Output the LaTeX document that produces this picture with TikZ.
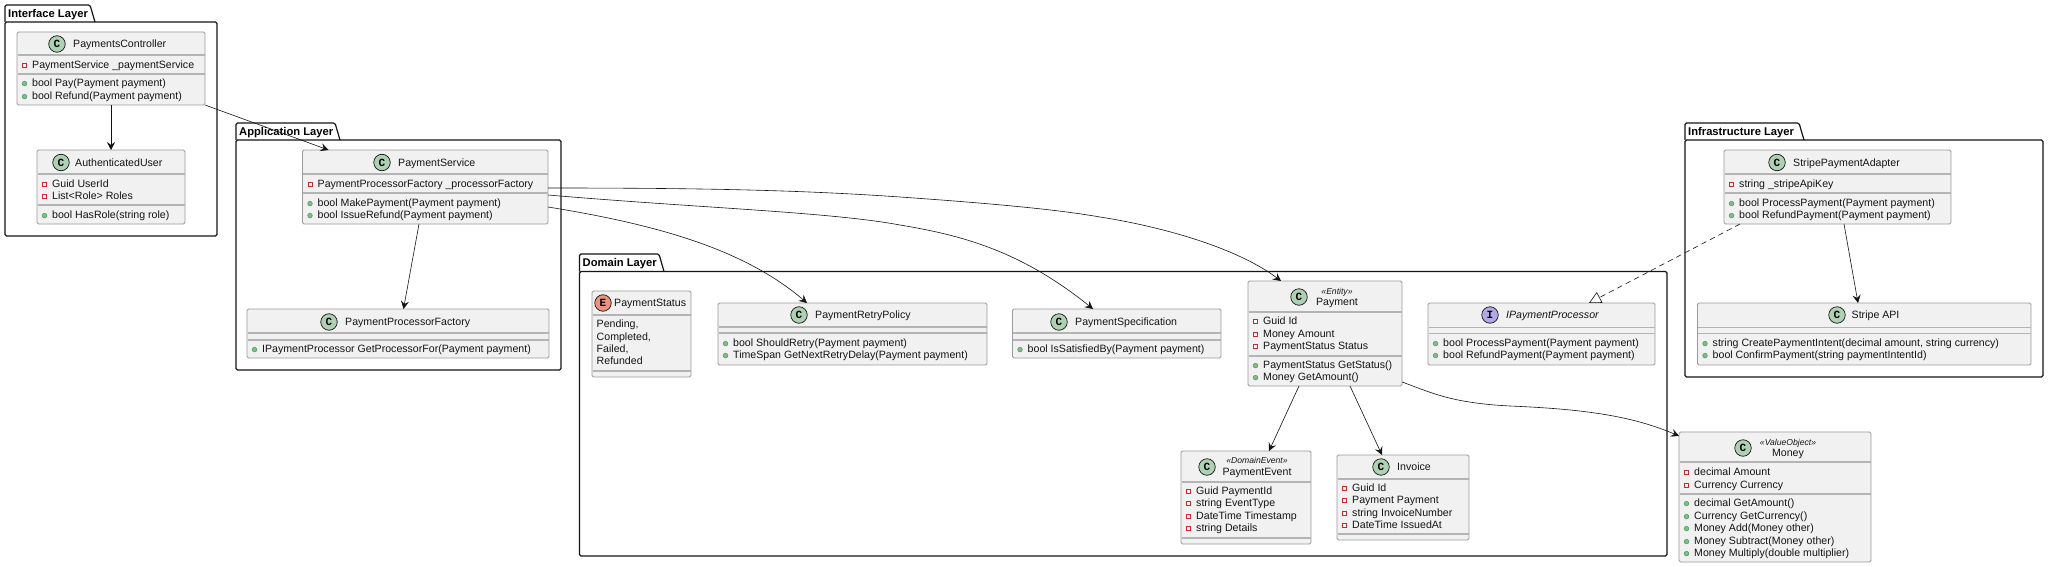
\documentclass[tikz,border=0pt]{standalone}
\usepackage{fontspec}
\setmainfont{Liberation Sans}
\newfontfamily\spotfont{Liberation Mono}
\usetikzlibrary{arrows.meta,calc}
\definecolor{boxfill}{HTML}{F1F1F1}
\definecolor{boxline}{HTML}{9A9A9A}
\definecolor{sepline}{HTML}{B4B4B4}
\definecolor{ink}{HTML}{141414}
\definecolor{spotC}{HTML}{ADD1B2}
\definecolor{spotE}{HTML}{EB937F}
\definecolor{spotI}{HTML}{B4A7E5}
\definecolor{fieldred}{HTML}{C82930}
\definecolor{methodgreen}{HTML}{84BE84}
\definecolor{methodline}{HTML}{4E9E68}
\newcommand{\txtfont}{\fontsize{10.6}{12}\selectfont}
\newcount\rowid
\newcommand{\nextid}{\global\advance\rowid by 1 }
% name x1 y1 x2 y2 sep1 sep2
\newcommand{\umlbox}[7]{%
  \node[classbox,minimum width={(#4-#2)*1pt},minimum height={(#5-#3)*1pt}] (#1) at ({(#2+#4)/2},{(#3+#5)/2}) {};
  \draw[seprule] (#2+0.5,#6) -- (#4-0.5,#6);
  \draw[seprule] (#2+0.5,#7) -- (#4-0.5,#7);
  \xdef\boxleft{#2}%
}
% spot: cx cy colour letter
\newcommand{\spot}[4]{\nextid
  \node[spotmark,fill=#3] (s\the\rowid) at (#1,#2) {\spotfont\bfseries\fontsize{11}{11}\selectfont #4};}
% left-aligned title: x y text
\newcommand{\ttl}[3]{\nextid
  \node[rowtext] (t\the\rowid) at (#1,#2+3.7) {#3};}
% centred line: x y text
\newcommand{\ctr}[3]{\nextid
  \node[rowtext,anchor=base] (t\the\rowid) at (#1,#2+3.7) {#3};}
\newcommand{\fld}[2]{\nextid
  \node[fieldmark] (m\the\rowid) at (\boxleft+7.5,#1+0.6) {};
  \node[rowtext] (t\the\rowid) at (\boxleft+15,#1+3.7) {#2};}
\newcommand{\mth}[2]{\nextid
  \node[methodmark] (m\the\rowid) at (\boxleft+7.5,#1+0.6) {};
  \node[rowtext] (t\the\rowid) at (\boxleft+15,#1+3.7) {#2};}
% package: name left tabtop tabright bodytop right bottom label
\newcommand{\pkg}[8]{%
  \draw[pkgline,rounded corners=1.5pt] (#2,#5) -- (#2,#3) -- (#4-5,#3) -- (#4,#5);
  \draw[pkgline,rounded corners=1.5pt] (#2,#5) -- (#6,#5) -- (#6,#7) -- (#2,#7) -- cycle;
  \node[pkglabel] (#1) at (#2+3,{(#3+#5)/2+3.9}) {#8};}
\tikzset{
  classbox/.style={draw=boxline,fill=boxfill,line width=0.8pt,rounded corners=1.5pt,inner sep=0pt,outer sep=0pt},
  seprule/.style={draw=sepline,line width=1.1pt},
  spotmark/.style={circle,draw=ink,line width=0.7pt,minimum size=16.5pt,inner sep=0pt},
  rowtext/.style={anchor=base west,inner sep=0pt,text=ink,font=\txtfont},
  fieldmark/.style={rectangle,draw=fieldred,fill=white,line width=0.7pt,minimum size=4.2pt,inner sep=0pt},
  methodmark/.style={circle,draw=methodline,fill=methodgreen,line width=0.6pt,minimum size=4.6pt,inner sep=0pt},
  pkgline/.style={draw=ink,line width=1.2pt},
  pkglabel/.style={anchor=base west,inner sep=0pt,text=black,font=\fontsize{11.2}{12}\selectfont\bfseries},
  dep/.style={draw=ink,line width=0.6pt,-{Stealth[length=8pt,width=8pt,inset=3pt]}},
  realize/.style={draw=ink,line width=0.6pt,dash pattern=on 5.5pt off 4pt,-{Triangle[open,length=12pt,width=12pt,fill=white]}},
}
\begin{document}
\begin{tikzpicture}[x=1pt,y=-1pt]
\useasboundingbox (0,0) rectangle (2048,567);
\fill[white] (0,0) rectangle (2048,567);

\pkg{pkgI}{5}{5}{95}{22}{217}{236}{Interface Layer}
\pkg{pkgA}{236}{123}{340}{140}{561}{370}{Application Layer}
\pkg{pkgD}{579.5}{254}{664}{271.5}{1667}{556}{Domain Layer}
\pkg{pkgF}{1685}{123}{1804}{140}{2043}{377}{Infrastructure Layer}

% Interface
\umlbox{pc}{17}{32}{205}{105}{55}{74}
\spot{57}{44}{spotC}{C}\ttl{73}{44}{PaymentsController}
\fld{65}{PaymentService \_paymentService}
\mth{83}{bool Pay(Payment payment)}
\mth{96}{bool Refund(Payment payment)}

\umlbox{au}{37}{150}{185}{224}{174}{205}
\spot{61}{162.5}{spotC}{C}\ttl{75}{163}{AuthenticatedUser}
\fld{184}{Guid UserId}
\fld{196}{List<Role> Roles}
\mth{215}{bool HasRole(string role)}

% Application
\umlbox{ps}{302.5}{150}{548}{224}{174}{193}
\spot{382}{162.5}{spotC}{C}\ttl{398}{163}{PaymentService}
\fld{184}{PaymentProcessorFactory \_processorFactory}
\mth{203}{bool MakePayment(Payment payment)}
\mth{215}{bool IssueRefund(Payment payment)}

\umlbox{pf}{247}{309}{549}{358}{333}{340}
\spot{329}{322}{spotC}{C}\ttl{345}{322}{PaymentProcessorFactory}
\mth{349}{IPaymentProcessor GetProcessorFor(Payment payment)}

% Domain
\umlbox{st}{592}{291}{691}{377}{315}{371}
\spot{603}{303}{spotE}{E}\ttl{614}{303}{PaymentStatus}
\ttl{596.5}{324}{Pending,}
\ttl{596.5}{337}{Completed,}
\ttl{596.5}{349}{Failed,}
\ttl{596.5}{361}{Refunded}

\umlbox{rp}{718}{303}{987}{365}{327}{333}
\spot{799}{315}{spotC}{C}\ttl{815}{315}{PaymentRetryPolicy}
\mth{343}{bool ShouldRetry(Payment payment)}
\mth{355}{TimeSpan GetNextRetryDelay(Payment payment)}

\umlbox{sp}{1012.5}{309}{1221}{358}{333}{340}
\spot{1059}{322}{spotC}{C}\ttl{1075}{322}{PaymentSpecification}
\mth{349}{bool IsSatisfiedBy(Payment payment)}

\umlbox{pa}{1248}{281}{1402}{386}{312}{356}
\spot{1299}{297}{spotC}{C}
\ctr{1337}{291}{\fontsize{8.6}{10}\selectfont\itshape «Entity»}
\ctr{1337}{302}{Payment}
\fld{321}{Guid Id}
\fld{334}{Money Amount}
\fld{346}{PaymentStatus Status}
\mth{365}{PaymentStatus GetStatus()}
\mth{377}{Money GetAmount()}

\umlbox{ip}{1428}{303}{1655}{365}{327.5}{333.5}
\spot{1490}{315}{spotI}{I}\ttl{1506}{315}{\itshape IPaymentProcessor}
\mth{343}{bool ProcessPayment(Payment payment)}
\mth{355}{bool RefundPayment(Payment payment)}

\umlbox{ev}{1181}{451}{1311}{544}{482}{538}
\spot{1207}{467}{spotC}{C}
\ctr{1257}{460}{\fontsize{8.6}{10}\selectfont\itshape «DomainEvent»}
\ctr{1257}{472}{PaymentEvent}
\fld{491}{Guid PaymentId}
\fld{503}{string EventType}
\fld{516}{DateTime Timestamp}
\fld{528}{string Details}

\umlbox{in}{1337}{455}{1469}{540}{479}{534}
\spot{1381}{467}{spotC}{C}\ttl{1397}{467}{Invoice}
\fld{488}{Guid Id}
\fld{500}{Payment Payment}
\fld{513}{string InvoiceNumber}
\fld{525}{DateTime IssuedAt}

% Infrastructure
\umlbox{ad}{1724}{150}{1951}{224}{174}{193}
\spot{1777}{162.5}{spotC}{C}\ttl{1793}{163}{StripePaymentAdapter}
\fld{184}{string \_stripeApiKey}
\mth{203}{bool ProcessPayment(Payment payment)}
\mth{215}{bool RefundPayment(Payment payment)}

\umlbox{sa}{1697.5}{303}{2031}{365}{327.5}{333.5}
\spot{1837}{315}{spotC}{C}\ttl{1851.5}{315}{Stripe API}
\mth{343}{string CreatePaymentIntent(decimal amount, string currency)}
\mth{355}{bool ConfirmPayment(string paymentIntentId)}

% Money
\umlbox{mo}{1679}{432}{1871}{562}{462}{494}
\spot{1743}{448}{spotC}{C}
\ctr{1788}{442}{\fontsize{8.6}{10}\selectfont\itshape «ValueObject»}
\ctr{1788}{453}{Money}
\fld{472}{decimal Amount}
\fld{485}{Currency Currency}
\mth{503}{decimal GetAmount()}
\mth{516}{Currency GetCurrency()}
\mth{528}{Money Add(Money other)}
\mth{541}{Money Subtract(Money other)}
\mth{553}{Money Multiply(double multiplier)}

% connectors
\draw[dep] ([xshift=94pt]pc.south west) -- ([xshift=74pt]au.north west);
\draw[dep] (pc.south east) -- ([xshift=26pt]ps.north west);
\draw[dep] ([xshift=116.5pt]ps.south west) -- ([xshift=156.5pt]pf.north west);
\draw[dep] ([yshift=-20pt]ps.east) .. controls (660,225) and (745,250) .. ([xshift=89pt]rp.north west);
\draw[dep] ([yshift=-8pt]ps.east) .. controls (700,208) and (830,212) .. (900,225) .. controls (960,235) and (1020,250) .. ([xshift=80.5pt]sp.north west);
\draw[dep] ([yshift=-1pt]ps.east) .. controls (700,188) and (800,190) .. (900,197) .. controls (1000,204) and (1060,210) .. (1100,217) .. controls (1170,228) and (1240,250) .. ([xshift=33pt]pa.north west);
\draw[dep] ([xshift=51pt]pa.south west) -- ([xshift=88pt]ev.north west);
\draw[dep] ([xshift=102pt]pa.south west) -- ([xshift=45pt]in.north west);
\draw[dep] ([yshift=4pt]pa.south east) .. controls (1430,392) and (1450,403) .. (1510,406) .. controls (1580,409) and (1630,415) .. ([yshift=-4pt]mo.north west);
\draw[realize] ([xshift=16pt]ad.south west) -- ([xshift=161pt]ip.north west);
\draw[dep] ([xshift=120pt]ad.south west) -- ([xshift=160.5pt]sa.north west);
\end{tikzpicture}
\end{document}
